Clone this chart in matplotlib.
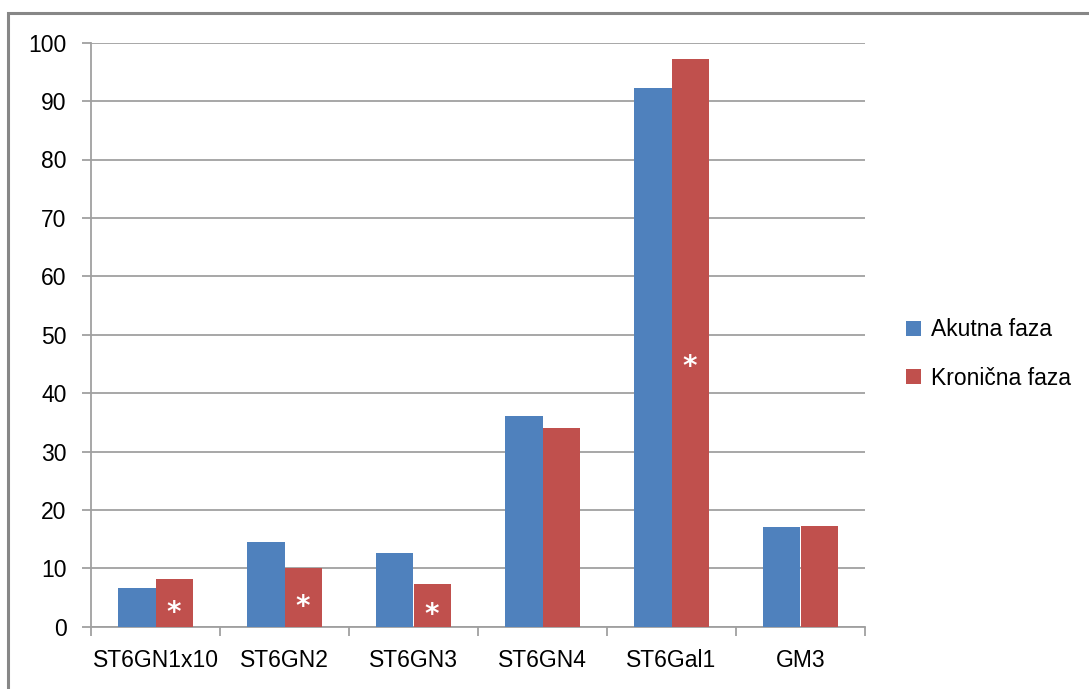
import matplotlib
matplotlib.use("Agg")
import matplotlib.pyplot as plt
from matplotlib.patches import Rectangle
import numpy as np

# podaci
kategorije = ["ST6GN1x10", "ST6GN2", "ST6GN3", "ST6GN4", "ST6Gal1", "GM3"]
akutna = [6.6, 14.5, 12.6, 36.0, 92.3, 17.1]
kronicna = [8.1, 10.1, 7.3, 34.0, 97.2, 17.3]
# gdje je zvjezdica (indeks kategorije, visina)
zvjezdice_idx = [0, 1, 2, 4]
zvjezdice_y = [2.9, 3.9, 2.6, 45.0]
y_ticks = [0, 10, 20, 30, 40, 50, 60, 70, 80, 90, 100]

plava = "#4F81BD"
crvena = "#C0504D"
siva = "#A0A0A0"

plt.rcParams["font.family"] = ["Liberation Sans", "DejaVu Sans"]

W, H = 1089, 689
fig = plt.figure(figsize=(W / 100, H / 100), dpi=100)
ax = fig.add_axes([91 / W, (H - 626.7) / H, 774 / W, 584 / H])

x = np.arange(len(kategorije))
w = 0.287
ax.bar(x - w / 2, akutna, w, color=plava, label="Akutna faza", zorder=3)
ax.bar(x + w / 2, kronicna, w, color=crvena, label="Kronična faza", zorder=3)

for i, yv in zip(zvjezdice_idx, zvjezdice_y):
    ax.text(x[i] + w / 2, yv, "*", color="white", fontsize=20, family="DejaVu Sans",
            fontweight="bold", ha="center", va="center_baseline", zorder=4)

ax.set_xlim(-0.5, len(kategorije) - 0.5)
ax.set_ylim(0, 100)
ax.set_yticks(y_ticks)
ax.yaxis.grid(True, color=siva, lw=1.3, zorder=0)
ax.tick_params(axis="y", length=6.5, width=1.3, color=siva, pad=11, labelsize=16.5)

# granice kategorija kao crtice, nazivi na sredini
ax.set_xticks(np.arange(-0.5, len(kategorije)), labels=[""] * (len(kategorije) + 1))
ax.set_xticks(x, labels=kategorije, minor=True)
ax.tick_params(axis="x", which="major", length=6.5, width=1.3, color=siva, direction="out")
ax.tick_params(axis="x", which="minor", length=0, pad=16, labelsize=16.5)

for s in ["top", "right"]:
    ax.spines[s].set_visible(False)
for s in ["left", "bottom"]:
    ax.spines[s].set_color(siva)
    ax.spines[s].set_linewidth(1.3)

ax.legend(loc="center left", bbox_to_anchor=(906 / W, (H - 354) / H),
          bbox_transform=fig.transFigure, frameon=False, fontsize=16.5,
          handlelength=0.65, handleheight=0.65, handletextpad=0.45,
          labelspacing=1.1, borderpad=0, borderaxespad=0)

# okvir slike
fig.patches.append(Rectangle((8 / W, -0.1), 1.2, (H - 13) / H + 0.1,
                             transform=fig.transFigure, fill=False,
                             edgecolor="#878787", lw=2.2))

fig.savefig("out.png", dpi=100)
